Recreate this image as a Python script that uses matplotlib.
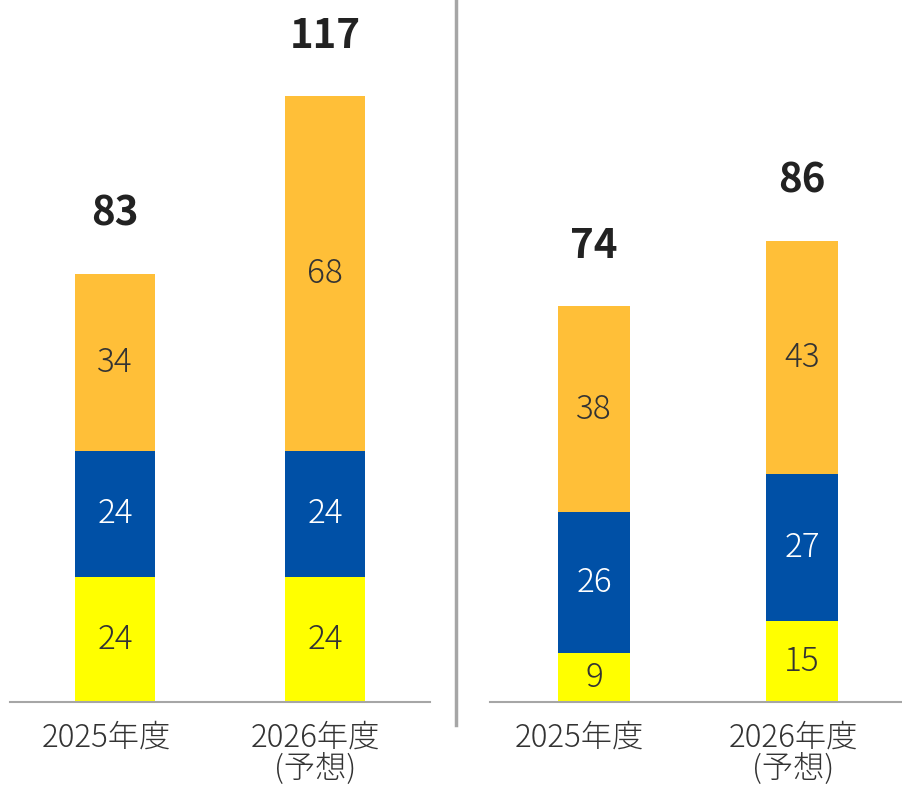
import matplotlib
matplotlib.use("Agg")
import matplotlib.pyplot as plt
from matplotlib.lines import Line2D

plt.rcParams['font.family'] = ['Noto Sans CJK JP', 'DejaVu Sans']

# data
categories = ["2025年度", "2026年度\n(予想)"]
left_yellow = [24, 24]
left_blue = [24, 24]
left_orange = [34, 68]
left_totals = ["83", "117"]

right_yellow = [9, 15]
right_blue = [26, 27]
right_orange = [38, 43]
right_totals = ["74", "86"]

YELLOW = "#FFFF00"
BLUE = "#0050A6"
ORANGE = "#FFBF38"
GRID = "#A6A6A6"
DARK = "#333333"

fig = plt.figure(figsize=(9.02, 7.86), dpi=100)
W, H = 902, 786


def panel(rect, ymax, width, yellow, blue, orange, totals, label_dx):
    ax = fig.add_axes(rect)
    x = list(range(len(categories)))
    ax.bar(x, yellow, width, color=YELLOW)
    ax.bar(x, blue, width, bottom=yellow, color=BLUE)
    b2 = [a + b for a, b in zip(yellow, blue)]
    ax.bar(x, orange, width, bottom=b2, color=ORANGE)
    top = [a + b for a, b in zip(b2, orange)]
    for i in x:
        ax.text(i, yellow[i] / 2, str(yellow[i]), ha="center", va="center",
                fontsize=24, color=DARK, fontweight="light")
        ax.text(i, yellow[i] + blue[i] / 2, str(blue[i]), ha="center", va="center",
                fontsize=24, color="white", fontweight="light")
        ax.text(i, b2[i] + orange[i] / 2, str(orange[i]), ha="center", va="center",
                fontsize=24, color=DARK, fontweight="light")
        ax.annotate(totals[i], (i, top[i]), xytext=(0, 60), textcoords="offset pixels",
                    ha="center", va="center", fontsize=29, fontweight="bold", color="#222222")
        # category labels sit a little left of the bar centres, one line at a time
        for k, line in enumerate(categories[i].split("\n")):
            ax.annotate(line, (i, 0), xytext=(label_dx[i], -36 - 31 * k),
                        textcoords="offset pixels", ha="center", va="center",
                        fontsize=22.5, color=DARK, fontweight="light",
                        annotation_clip=False)
    ax.set_xlim(-0.5, 1.5)
    ax.set_ylim(0, ymax)
    ax.set_xticks([])
    ax.set_yticks([])
    for s in ["top", "right", "left"]:
        ax.spines[s].set_visible(False)
    ax.spines["bottom"].set_color(GRID)
    ax.spines["bottom"].set_linewidth(1.5)
    return ax


base = (H - 702) / H
panel([10 / W, base, 420 / W, 130 * 5.22 / H], 130, 0.384,
      left_yellow, left_blue, left_orange, left_totals, [-9, -10])
panel([490 / W, base, 416 / W, 120 * 5.42 / H], 120, 0.346,
      right_yellow, right_blue, right_orange, right_totals, [-15, -9])

# divider
fig.add_artist(Line2D([456 / W, 456 / W], [1 - 725 / H, 1.0], color=GRID,
                      linewidth=2.5, transform=fig.transFigure))

fig.savefig("out.png", dpi=100)
